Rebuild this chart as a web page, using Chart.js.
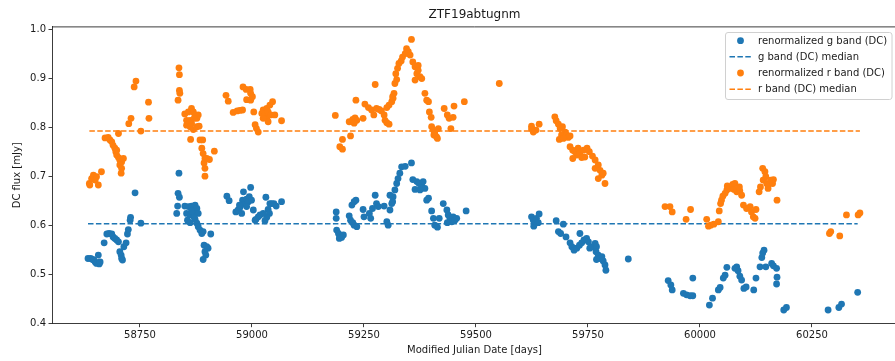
<!DOCTYPE html>
<html><head><meta charset="utf-8">
<script src="https://cdn.jsdelivr.net/npm/chart.js@4.4.1/dist/chart.umd.min.js"></script>
<style>html,body{margin:0;padding:0;background:#fff;overflow:hidden}#wrap{width:895px;height:361px;overflow:hidden}</style>
</head><body><div id="wrap"><canvas id="c" width="897" height="361"></canvas></div>
<script>
const chartTitle = 'ZTF19abtugnm';
const xLabel = 'Modified Julian Date [days]';
const yLabel = 'DC flux [mJy]';
const xTicks = [58750, 59000, 59250, 59500, 59750, 60000, 60250];
const yTicks = [0.4, 0.5, 0.6, 0.7, 0.8, 0.9, 1.0];
const xRange = [58553.6, 60439.8];
const yRange = [0.4, 1.0055];
const seriesNames = ['renormalized g band (DC)', 'g band (DC) median', 'renormalized r band (DC)', 'r band (DC) median'];
const gMedian = 0.604;
const rMedian = 0.793;

// [MJD, flux mJy]
const gObs = [
[58634,.533],[58640,.533],[58644,.531],[58650,.526],[58653,.523],[58659,.522],[58657,.540],[58647,.530],[58661,.526],[58670,.565],[58676,.583],[58681,.584],[58687,.583],[58690,.577],[58694,.574],[58698,.571],[58702,.567],[58705,.547],[58708,.540],[58709,.533],[58711,.530],[58714,.557],[58719,.565],[58722,.583],[58724,.592],[58728,.611],[58729,.617],[58739,.667],[58752,.605],
[58835,.666],[58838,.658],[58834,.640],[58832,.625],[58837,.707],[58850,.640],[58858,.639],[58865,.640],[58873,.642],[58877,.635],[58854,.625],[58862,.622],[58869,.625],[58880,.625],[58856,.611],[58862,.606],[58873,.613],[58877,.605],[58880,.598],[58884,.591],[58888,.584],[58891,.588],[58908,.583],[58865,.630],[58871,.617],[58893,.560],[58899,.557],[58902,.554],[58895,.547],[58897,.540],[58891,.531],
[58944,.660],[58949,.651],[58964,.628],[58969,.632],[58973,.637],[58979,.652],[58982,.644],[58988,.654],[58994,.659],[58997,.678],[58992,.649],[58999,.652],[58977,.625],[58972,.642],[58988,.639],[58981,.669],[59003,.632],[59009,.613],[59014,.618],[59018,.622],[59031,.658],[59036,.633],[59039,.625],[59033,.617],[59029,.610],[59040,.645],[59049,.645],[59054,.640],[59066,.649],[59007,.611],[59025,.625],[59044,.645],
[59188,.628],[59188,.615],[59189,.591],[59193,.584],[59196,.579],[59200,.576],[59204,.581],[59195,.574],[59217,.620],[59220,.611],[59225,.606],[59228,.601],[59234,.598],[59223,.642],[59228,.649],[59232,.652],[59248,.633],[59250,.618],[59262,.625],[59265,.615],[59269,.635],[59275,.662],[59278,.645],[59282,.639],[59295,.640],[59301,.608],[59304,.601],[59308,.632],[59312,.645],[59308,.662],[59315,.659],[59319,.673],[59323,.686],[59326,.696],[59330,.707],[59334,.720],[59342,.721],[59356,.728],[59314,.649],[59359,.694],[59364,.674],[59368,.690],[59373,.686],[59379,.681],[59382,.690],[59386,.676],[59390,.652],[59394,.656],[59375,.673],[59401,.630],[59405,.615],[59408,.601],[59414,.597],[59418,.615],[59427,.645],[59435,.632],[59438,.622],[59442,.615],[59446,.608],[59449,.618],[59453,.611],[59457,.615],[59478,.630],[59436,.606],
[59624,.618],[59628,.611],[59632,.605],[59635,.615],[59641,.624],[59639,.606],[59629,.599],[59679,.610],[59684,.588],[59689,.584],[59695,.603],[59701,.577],[59732,.584],[59710,.565],[59714,.557],[59719,.550],[59725,.554],[59731,.560],[59736,.565],[59741,.571],[59747,.574],[59751,.567],[59754,.554],[59760,.557],[59766,.564],[59769,.557],[59768,.547],[59773,.540],[59777,.533],[59781,.537],[59784,.528],[59788,.520],[59790,.509],[59769,.531],[59840,.532],
[59929,.488],[59935,.479],[59938,.469],[59963,.462],[59970,.459],[59978,.457],[59984,.457],[59984,.493],[60021,.438],[60028,.452],[60041,.469],[60045,.474],[60052,.493],[60056,.499],[60060,.515],[60082,.516],[60085,.508],[60089,.497],[60093,.489],[60098,.472],[60103,.475],[60120,.469],[60125,.493],[60078,.513],[60134,.516],[60138,.535],[60140,.544],[60143,.550],[60147,.516],[60160,.523],[60164,.518],[60171,.513],[60172,.495],[60171,.481],[60187,.428],[60193,.433],[60286,.428],[60310,.433],[60316,.440],[60352,.464]
];

const rObs = [
[58637,.686],[58642,.696],[58646,.703],[58650,.693],[58653,.700],[58657,.683],[58638,.683],[58664,.710],[58672,.779],[58679,.780],[58683,.775],[58687,.771],[58690,.764],[58694,.758],[58696,.751],[58698,.744],[58702,.739],[58705,.734],[58709,.730],[58713,.737],[58705,.724],[58709,.717],[58708,.707],[58698,.754],[58702,.788],[58725,.808],[58730,.819],[58737,.883],[58741,.895],[58752,.793],[58769,.852],[58770,.819],
[58837,.922],[58838,.908],[58838,.876],[58839,.870],[58835,.856],[58850,.828],[58858,.832],[58865,.839],[58869,.832],[58873,.826],[58877,.819],[58880,.826],[58854,.815],[58854,.805],[58862,.802],[58865,.809],[58869,.796],[58877,.802],[58882,.803],[58862,.815],[58871,.819],[58863,.776],[58884,.775],[58890,.775],[58888,.758],[58891,.747],[58895,.737],[58899,.737],[58893,.728],[58895,.717],[58895,.701],[58905,.735],[58916,.752],
[58942,.866],[58947,.854],[58958,.831],[58967,.834],[58973,.835],[58979,.836],[58980,.883],[58987,.878],[58996,.878],[58997,.870],[58988,.857],[58997,.856],[59001,.863],[59004,.832],[59007,.806],[59010,.798],[59014,.791],[59022,.829],[59025,.836],[59029,.826],[59033,.839],[59036,.832],[59040,.846],[59046,.853],[59033,.819],[59036,.812],[59025,.819],[59042,.826],[59051,.826],[59066,.814],
[59186,.825],[59196,.761],[59202,.756],[59202,.776],[59220,.783],[59217,.812],[59225,.817],[59230,.820],[59234,.815],[59228,.809],[59232,.856],[59248,.819],[59252,.848],[59260,.841],[59267,.836],[59272,.826],[59278,.839],[59284,.837],[59289,.834],[59295,.826],[59297,.815],[59301,.810],[59306,.807],[59275,.888],[59301,.841],[59306,.846],[59312,.853],[59315,.860],[59317,.870],[59314,.863],[59319,.890],[59323,.898],[59321,.910],[59325,.921],[59328,.931],[59333,.936],[59336,.944],[59342,.951],[59345,.961],[59349,.955],[59356,.980],[59345,.952],[59353,.948],[59359,.934],[59364,.924],[59371,.927],[59368,.910],[59375,.904],[59379,.900],[59364,.897],[59371,.917],[59386,.870],[59390,.856],[59394,.853],[59396,.832],[59400,.821],[59401,.802],[59405,.795],[59408,.788],[59412,.781],[59416,.798],[59406,.785],[59414,.778],[59429,.839],[59436,.826],[59440,.819],[59449,.821],[59451,.844],[59444,.798],[59474,.853],
[59552,.890],
[59624,.803],[59628,.791],[59634,.795],[59641,.807],[59624,.797],[59676,.822],[59679,.814],[59684,.807],[59688,.798],[59693,.802],[59699,.791],[59691,.785],[59702,.785],[59706,.780],[59710,.783],[59686,.776],[59695,.778],[59710,.761],[59716,.754],[59721,.751],[59728,.758],[59725,.744],[59716,.737],[59732,.747],[59740,.754],[59743,.740],[59748,.758],[59753,.751],[59736,.739],[59760,.742],[59766,.734],[59766,.717],[59773,.724],[59777,.713],[59781,.703],[59773,.696],[59788,.686],[59784,.707],
[59922,.639],[59933,.639],[59938,.628],[59969,.613],[59979,.633],[60015,.613],[60019,.599],[60024,.601],[60031,.603],[60041,.608],[60043,.630],[60046,.645],[60048,.652],[60051,.660],[60056,.666],[60060,.673],[60061,.681],[60067,.676],[60073,.684],[60078,.686],[60076,.674],[60082,.669],[60089,.671],[60093,.662],[60088,.679],[60097,.642],[60104,.635],[60112,.639],[60115,.628],[60119,.618],[60123,.615],[60125,.633],[60132,.669],[60135,.679],[60140,.717],[60145,.710],[60147,.700],[60141,.693],[60149,.686],[60152,.683],[60158,.693],[60162,.686],[60164,.694],[60152,.676],[60172,.652],[60289,.584],[60292,.588],[60312,.579],[60327,.622],[60353,.622],[60357,.626]
];

const BLUE = '#1f77b4', ORANGE = '#ff7f0e';
const FONT = "'DejaVu Sans', sans-serif";
const toPts = a => a.map(p => ({x: p[0], y: p[1]}));
const span = (a, v) => {
  const xs = a.map(p => p[0]);
  return [{x: Math.min(...xs), y: v}, {x: Math.max(...xs), y: v}];
};

const mplLegend = {
  id: 'mplLegend',
  afterDraw(chart) {
    const ctx = chart.ctx;
    ctx.save();
    const x0 = 725.5, y0 = 32.5, w = 166.5, h = 67;
    ctx.beginPath();
    ctx.roundRect(x0, y0, w, h, 2.5);
    ctx.fillStyle = 'rgba(255,255,255,0.8)';
    ctx.fill();
    ctx.strokeStyle = '#d0d0d0';
    ctx.lineWidth = 1;
    ctx.stroke();
    const rows = [40.7, 56.7, 73.0, 89.3];
    const cols = [BLUE, BLUE, ORANGE, ORANGE];
    ctx.font = '10px ' + FONT;
    ctx.textBaseline = 'middle';
    ctx.textAlign = 'left';
    seriesNames.forEach((name, i) => {
      const y = rows[i];
      if (i % 2 === 0) {
        ctx.beginPath();
        ctx.arc(740.5, y, 3.4, 0, Math.PI * 2);
        ctx.fillStyle = cols[i];
        ctx.fill();
      } else {
        ctx.beginPath();
        ctx.setLineDash([5.5, 2.4]);
        ctx.moveTo(729.5, y); ctx.lineTo(751.5, y);
        ctx.strokeStyle = cols[i];
        ctx.lineWidth = 1.45;
        ctx.stroke();
        ctx.setLineDash([]);
      }
      ctx.fillStyle = '#1a1a1a';
      ctx.fillText(name, 758, y + 0.5);
    });
    ctx.restore();
  }
};

const frame = {
  id: 'frame',
  afterDatasetsDraw(chart) {
    const {ctx, chartArea: a} = chart;
    ctx.save();
    ctx.strokeStyle = '#262626';
    ctx.lineWidth = 0.9;
    ctx.beginPath();
    ctx.moveTo(a.left, a.top); ctx.lineTo(a.right, a.top);
    ctx.lineTo(a.right, a.bottom);
    ctx.stroke();
    ctx.restore();
  }
};

new Chart(document.getElementById('c'), {
  type: 'scatter',
  data: {
    datasets: [
      {label: seriesNames[3], type: 'line', data: span(rObs, rMedian), borderColor: ORANGE, borderWidth: 1.45, borderDash: [5.5, 2.4], pointRadius: 0, fill: false},
      {label: seriesNames[2], data: toPts(rObs), backgroundColor: ORANGE, borderWidth: 0, pointRadius: 3.4, pointHoverRadius: 3.4},
      {label: seriesNames[1], type: 'line', data: span(gObs, gMedian), borderColor: BLUE, borderWidth: 1.45, borderDash: [5.5, 2.4], pointRadius: 0, fill: false},
      {label: seriesNames[0], data: toPts(gObs), backgroundColor: BLUE, borderWidth: 0, pointRadius: 3.4, pointHoverRadius: 3.4}
    ]
  },
  options: {
    responsive: false,
    animation: false,
    devicePixelRatio: 1,
    layout: {autoPadding: false, padding: {left: 0, right: 0, top: 0, bottom: 0}},
    plugins: {
      legend: {display: false},
      tooltip: {enabled: false},
      title: {display: true, fullSize: false, text: chartTitle, color: '#1a1a1a', font: {family: FONT, size: 12, weight: 'normal'}, padding: {top: 8, bottom: 4.5}}
    },
    scales: {
      x: {
        type: 'linear', min: xRange[0], max: xRange[1],
        afterBuildTicks: s => { s.ticks = xTicks.map(v => ({value: v})); },
        afterFit: s => { s.height = 37.3; },
        ticks: {color: '#1a1a1a', font: {family: FONT, size: 10}, padding: 2.5, maxRotation: 0, autoSkip: false, callback: v => String(v)},
        grid: {display: true, drawOnChartArea: false, drawTicks: true, tickLength: 3.5, color: '#262626', lineWidth: 0.9},
        border: {display: true, color: '#262626', width: 0.9},
        title: {display: true, text: xLabel, color: '#1a1a1a', font: {family: FONT, size: 10}, padding: {top: 0, bottom: 5}}
      },
      y: {
        type: 'linear', min: yRange[0], max: yRange[1],
        afterBuildTicks: s => { s.ticks = yTicks.map(v => ({value: v})); },
        afterFit: s => { s.width = 52; },
        ticks: {color: '#1a1a1a', font: {family: FONT, size: 10}, padding: 2.5, autoSkip: false, callback: v => v.toFixed(1)},
        grid: {display: true, drawOnChartArea: false, drawTicks: true, tickLength: 3.5, color: '#262626', lineWidth: 0.9},
        border: {display: true, color: '#262626', width: 0.9},
        title: {display: true, text: yLabel, color: '#1a1a1a', font: {family: FONT, size: 10}, padding: {top: 11, bottom: 0}}
      }
    }
  },
  plugins: [frame, mplLegend]
});
</script>
</body></html>
